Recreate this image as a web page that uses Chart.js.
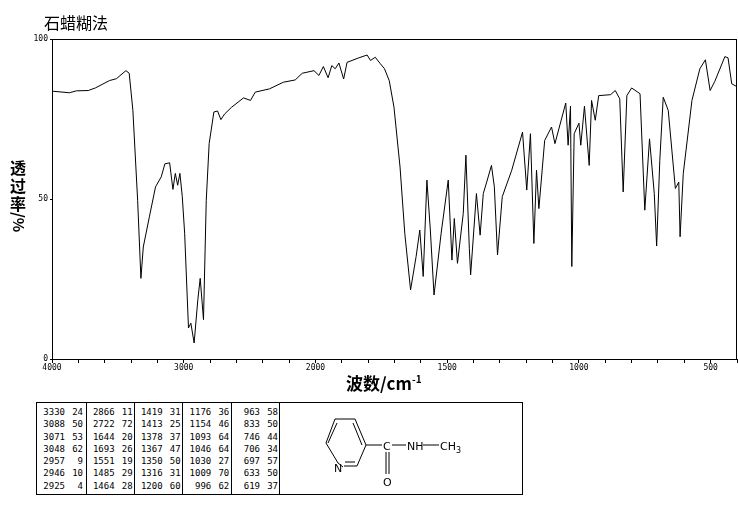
<!DOCTYPE html>
<html><head><meta charset="utf-8">
<script src="https://cdn.jsdelivr.net/npm/chart.js@4"></script>
<style>
body{margin:0;background:#fff;width:738px;height:510px;position:relative;overflow:hidden;font-family:"Noto Sans CJK SC",sans-serif}
#wrap{position:absolute;left:0;top:0;width:738px;height:395px}
.t{position:absolute;color:#000}
table{border-collapse:collapse;font-family:"DejaVu Sans Mono",monospace;font-size:9px;}
td{vertical-align:top;padding:0;line-height:12.3px;height:12.3px;white-space:pre}
</style></head><body>
<div id="wrap"><canvas id="c" width="738" height="395"></canvas></div>
<div class="t" style="left:44px;top:10px;font-size:16px;font-family:'Noto Sans CJK SC';">石蜡糊法</div>
<div class="t" style="left:9px;top:158px;font-size:16px;font-weight:bold;line-height:18px;width:18px;text-align:center">透<br>过<br>率</div>
<div class="t" style="left:9px;top:212px;font-size:15px;font-weight:bold;writing-mode:vertical-rl;">/%</div>
<div class="t" style="left:346px;top:370px;font-size:17px;font-weight:bold;">波数/cm<sup style="font-size:10px">-1</sup></div>
<div id="tbl" style="position:absolute;left:36px;top:402px;width:485px;height:91px;border:1px solid #000;"></div>
<svg style="position:absolute;left:0;top:0" width="738" height="510">
<g stroke="#000" stroke-width="1" fill="none">
<polyline points="335,419 355,419 366,445 357,466"/>
<polyline points="343,467 338,463 326,443 335,419"/>
<line x1="337" y1="423" x2="328" y2="443"/>
<line x1="353" y1="423" x2="362" y2="445"/>
<line x1="344" y1="466" x2="357" y2="466"/><line x1="345" y1="462" x2="355" y2="462"/>
<line x1="366" y1="445" x2="382" y2="445"/>
<line x1="392" y1="445" x2="406" y2="445"/>
<line x1="423" y1="445" x2="439" y2="445"/>
<line x1="386" y1="452" x2="386" y2="474"/><line x1="389" y1="452" x2="389" y2="474"/>
</g>
<g font-family="DejaVu Sans" font-size="11" fill="#000">
<text x="334" y="472">N</text>
<text x="383" y="450">C</text>
<text x="383" y="486">O</text>
<text x="407" y="450">NH</text>
<text x="440" y="450">CH<tspan font-size="8" dy="3">3</tspan></text>
</g></svg>
<script>
const wavenumbers=[4000,3868,3814,3725,3671,3564,3511,3439,3414,3386,3350,3325,3307,3261,3214,3171,3143,3107,3082,3064,3046,3029,3011,2993,2964,2946,2921,2893,2875,2850,2829,2807,2771,2743,2718,2689,2636,2546,2493,2457,2350,2243,2154,2100,2011,1987,1970,1952,1938,1925,1911,1893,1880,1836,1804,1791,1773,1755,1738,1720,1702,1679,1661,1639,1618,1604,1591,1577,1564,1550,1523,1496,1482,1473,1461,1439,1429,1416,1411,1389,1375,1363,1350,1332,1321,1309,1291,1255,1214,1198,1184,1171,1161,1152,1130,1104,1091,1050,1041,1032,1027,1018,1000,993,979,961,952,938,925,880,862,845,832,818,800,768,750,732,714,705,693,680,661,634,621,616,604,571,541,520,502,484,446,434,420,402];
const transmittance=[83.7,83.2,83.8,83.9,84.7,87.0,87.6,90.1,89.3,77.7,49.6,25.2,35,44.4,53.8,56.9,61,61.3,53,58,54.3,58,50.7,39.3,9.7,11.2,5,18.5,25.2,12.3,49.6,67.3,77.2,77.5,74.8,76.6,78.7,81.6,80.8,83.4,84.4,86.5,87.2,89.3,90.1,88.6,91.4,87.9,91.7,90.7,92.5,87.5,92.7,94.1,95.0,93.3,94.3,92.4,90.7,87,78.7,60,39.3,21.6,32,40.3,25.8,55.9,40.3,20,39.3,55.9,30.9,43.9,29.9,45.5,63.7,34.6,26.3,51.7,38.7,51.7,55.3,60.5,53.8,32.5,50.7,59,70.9,52.8,70.4,36.1,59,47,68.3,72.5,67.3,80,66.8,79,28.9,70.4,73.7,66.8,79,60.5,80.8,74.6,82.3,82.6,83.9,81.3,52.2,82.3,84.7,82.9,46.5,68.8,51.7,35.3,62.1,81.8,77.7,53.3,55.3,38.2,57.9,80.8,90.7,93.5,83.9,86.8,94.5,94.1,86,85.2];
const xTickLabels=[4000,3000,2000,1500,1000,500];
const yTickLabels=[0,50,100];
const peakWn=[[3330,3088,3071,3048,2957,2946,2925],[2866,2722,1644,1693,1551,1485,1464],[1419,1413,1378,1367,1350,1316,1200],[1176,1154,1093,1046,1030,1009,996],[963,833,746,706,697,633,619]];
const peakT=[[24,50,53,62,9,10,4],[11,72,20,26,19,29,28],[31,25,37,47,50,31,60],[36,46,64,64,27,70,62],[58,50,44,34,57,50,37]];

const toU=w=>w>=2000?4000-w:2000+2*(2000-w);
const fromU=u=>u<=2000?4000-u:2000-(u-2000)/2;

const tbl=document.getElementById('tbl');
const colX=[0,49.6,97.6,146.3,195,243.3];
peakWn.forEach((col,i)=>{
  const d=document.createElement('div');
  d.style.cssText=`position:absolute;left:${colX[i]}px;top:0;width:${colX[i+1]-colX[i]}px;height:91px;border-right:1px solid #000;box-sizing:border-box;`;
  let h='<table style="margin:3px 0 0 4px">';
  col.forEach((w,j)=>{h+=`<tr><td style="width:24px;text-align:right">${w}</td><td style="width:18px;text-align:right">${peakT[i][j]}</td></tr>`;});
  d.innerHTML=h+'</table>';
  tbl.appendChild(d);
});

const frame={id:'frame',afterDraw(c){const a=c.chartArea,x=c.ctx;x.save();x.strokeStyle='#000';x.lineWidth=1;x.strokeRect(a.left+0.5,a.top+0.5,a.right-a.left-1,a.bottom-a.top);x.restore();}};
new Chart(document.getElementById('c'),{
  type:'line',
  data:{datasets:[{data:wavenumbers.map((w,i)=>({x:toU(w),y:transmittance[i]})),borderColor:'#000',borderWidth:1,pointRadius:0,tension:0,fill:false}]},
  options:{responsive:false,animation:false,events:[],
    layout:{padding:{top:39,right:1,left:0,bottom:0}},
    plugins:{legend:{display:false},tooltip:{enabled:false}},
    scales:{
      x:{type:'linear',min:0,max:5200,
        afterFit(s){s.height=36;},
        afterBuildTicks(s){const t=[];for(let u=0;u<=5200;u+=200)t.push({value:u});s.ticks=t;},
        ticks:{autoSkip:false,maxRotation:0,padding:0,color:'#000',font:{size:8,family:'DejaVu Sans Mono'},
          callback:(v)=>{const w=Math.round(fromU(v));return xTickLabels.includes(w)&&v%1000===0?String(w):'';}},
        grid:{drawOnChartArea:false,tickLength:4,color:'#000'},border:{color:'#000'}},
      y:{min:0,max:100,
        afterFit(s){s.width=52;},
        afterBuildTicks(s){s.ticks=yTickLabels.map(v=>({value:v}));},
        ticks:{color:'#000',padding:2,font:{size:8,family:'DejaVu Sans Mono'}},
        grid:{drawOnChartArea:false,tickLength:2,color:'#000'},border:{color:'#000'}}
    }},
  plugins:[frame]
});
</script></body></html>
